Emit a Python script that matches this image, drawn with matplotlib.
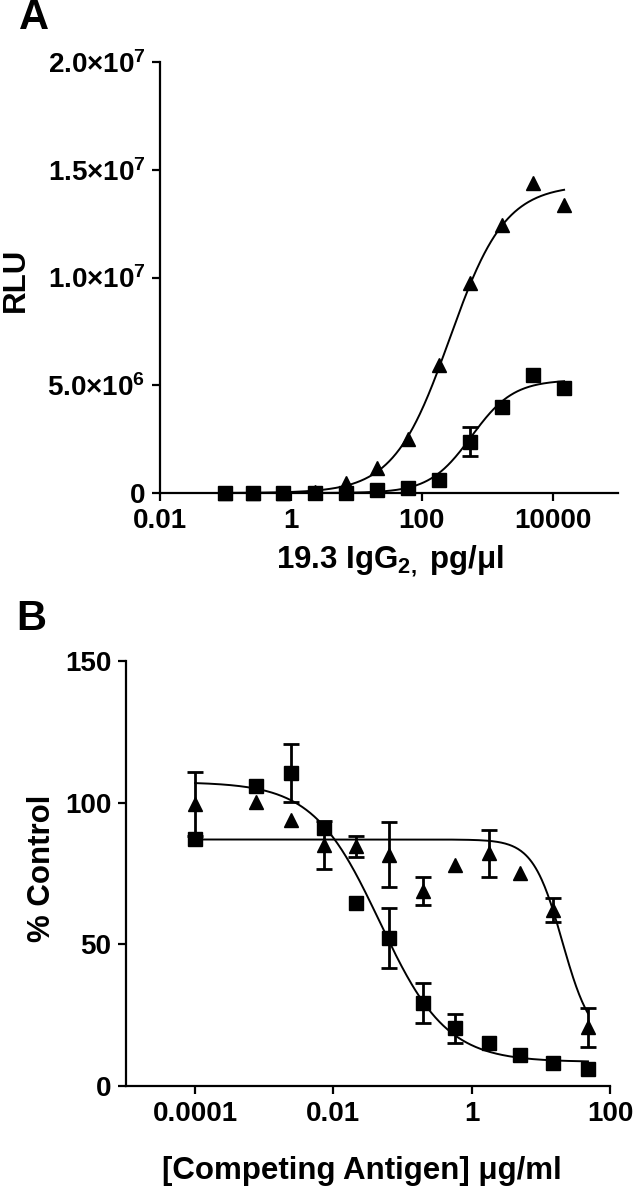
import numpy as np
import matplotlib
matplotlib.use('Agg')
import matplotlib.pyplot as plt
from matplotlib.ticker import FixedLocator, FixedFormatter, NullLocator

plt.rcParams['font.family'] = ['Liberation Sans', 'DejaVu Sans']
plt.rcParams['font.weight'] = 'bold'
plt.rcParams['mathtext.fontset'] = 'custom'
plt.rcParams['mathtext.rm'] = 'Liberation Sans:bold'
plt.rcParams['mathtext.bf'] = 'Liberation Sans:bold'
plt.rcParams['mathtext.it'] = 'Liberation Sans:bold'
plt.rcParams['mathtext.default'] = 'rm'

# ---------------- Panel A data ----------------
conc_a = [0.1, 0.26, 0.77, 2.3, 6.9, 21, 62, 185, 556, 1667, 5000, 15000]
rlu_square = [0, 0, 0, 0, 0, 0.14e6, 0.23e6, 0.6e6, 2.37e6, 4.0e6, 5.48e6, 4.87e6]
rlu_square_err = [0, 0, 0, 0, 0, 0, 0, 0, 0.67e6, 0, 0, 0]
rlu_triangle = [0, 0, 0, 0.05e6, 0.46e6, 1.16e6, 2.5e6, 5.94e6, 9.74e6, 12.44e6, 14.39e6, 13.36e6]
# fitted 4-parameter logistic curves (bottom, top, logEC50, hill)
fit_a_triangle = (0.0, 14.3e6, 2.425, 1.02)
fit_a_square = (0.0, 5.25e6, 2.76, 1.35)
ticks_a_x = [0.01, 1, 100, 10000]
ticklabels_a_x = ['0.01', '1', '100', '10000']
ticks_a_y = [0, 5e6, 1e7, 1.5e7, 2e7]
ticklabels_a_y = ['0', '5.0×10$^{6}$', '1.0×10$^{7}$', '1.5×10$^{7}$', '2.0×10$^{7}$']

# ---------------- Panel B data ----------------
conc_b = [1e-4, 7.7e-4, 2.4e-3, 7.2e-3, 0.0215, 0.063, 0.195, 0.57, 1.76, 5.0, 14.9, 48]
pct_square = [87.2, 105.9, 110.5, 91.2, 64.6, 52.2, 29.3, 20.4, 15.2, 11.0, 8.1, 6.0]
pct_square_err = [0, 0, 10.2, 0, 0, 10.7, 7.1, 5.1, 0, 0, 0, 0]
pct_triangle = [99.5, 100.2, 93.9, 85.0, 84.7, 81.6, 68.8, 78.0, 82.1, 75.2, 62.2, 20.7]
pct_triangle_err = [11.3, 0, 0, 8.5, 3.7, 11.5, 5.0, 0, 8.3, 0, 4.3, 7.0]
fit_b_square = (8.5, 107.3, -1.33, 0.9)
fit_b_triangle = (15.0, 87.0, 1.31, 2.05)
ticks_b_x = [1e-4, 1e-2, 1, 100]
ticklabels_b_x = ['0.0001', '0.01', '1', '100']
ticks_b_y = [0, 50, 100, 150]
ticklabels_b_y = ['0', '50', '100', '150']


def logistic_up(x, p):
    b, t, l, h = p
    return b + (t - b) / (1 + 10 ** ((l - np.log10(x)) * h))


def logistic_down(x, p):
    b, t, l, h = p
    return b + (t - b) / (1 + 10 ** ((np.log10(x) - l) * h))


W, H = 640, 1199
fig = plt.figure(figsize=(W / 100, H / 100), dpi=100)

def px_axes(x0, y0, x1, y1):
    return fig.add_axes([x0 / W, 1 - y1 / H, (x1 - x0) / W, (y1 - y0) / H])

axA = px_axes(160, 62, 618, 493)
axB = px_axes(126, 661, 610, 1086)

TICK_FS = 20
LABEL_FS = 22.5
MS = 10.5
LW_SPINE = 1.6


def style(ax):
    for s in ['top', 'right']:
        ax.spines[s].set_visible(False)
    for s in ['left', 'bottom']:
        ax.spines[s].set_linewidth(LW_SPINE)
    ax.tick_params(direction='out', length=5.5, width=LW_SPINE, pad=5,
                   labelsize=TICK_FS)
    ax.xaxis.set_minor_locator(NullLocator())
    ax.yaxis.set_minor_locator(NullLocator())


def draw_points(ax, x, y, err, marker, z):
    x = np.asarray(x); y = np.asarray(y); err = np.asarray(err)
    m = err > 0
    if m.any():
        ax.errorbar(x[m], y[m], yerr=err[m], fmt='none', ecolor='black',
                    elinewidth=2.0, capsize=6, capthick=2.0, zorder=z,
                    clip_on=False)
    ax.plot(x, y, linestyle='none', marker=marker, ms=MS, color='black',
            zorder=z + 0.5, clip_on=False)

# ---- Panel A ----
axA.set_xscale('log')
axA.set_xlim(0.01, 1e5)
axA.set_ylim(0, 2e7)
xa = np.logspace(np.log10(conc_a[0]), np.log10(conc_a[-1]), 400)
axA.plot(xa, logistic_up(xa, fit_a_triangle), color='black', lw=1.4, zorder=2)
axA.plot(xa, logistic_up(xa, fit_a_square), color='black', lw=1.4, zorder=2)
draw_points(axA, conc_a, rlu_triangle, [0] * len(conc_a), '^', 3)
draw_points(axA, conc_a, rlu_square, rlu_square_err, 's', 4)
style(axA)
axA.xaxis.set_major_locator(FixedLocator(ticks_a_x))
axA.xaxis.set_major_formatter(FixedFormatter(ticklabels_a_x))
axA.yaxis.set_major_locator(FixedLocator(ticks_a_y))
axA.yaxis.set_major_formatter(FixedFormatter(ticklabels_a_y))

# ---- Panel B ----
axB.set_xscale('log')
axB.set_xlim(1e-5, 100)
axB.set_ylim(0, 150)
xb = np.logspace(np.log10(conc_b[0]), np.log10(conc_b[-1]), 400)
axB.plot(xb, logistic_down(xb, fit_b_square), color='black', lw=1.4, zorder=2)
axB.plot(xb, logistic_down(xb, fit_b_triangle), color='black', lw=1.4, zorder=2)
draw_points(axB, conc_b, pct_triangle, pct_triangle_err, '^', 3)
draw_points(axB, conc_b, pct_square, pct_square_err, 's', 4)
style(axB)
axB.xaxis.set_major_locator(FixedLocator(ticks_b_x))
axB.xaxis.set_major_formatter(FixedFormatter(ticklabels_b_x))
axB.yaxis.set_major_locator(FixedLocator(ticks_b_y))
axB.yaxis.set_major_formatter(FixedFormatter(ticklabels_b_y))

# ---- Labels ----
def ftext(x, y, s, **kw):
    fig.text(x / W, 1 - y / H, s, ha='center', va='center', fontweight='bold', **kw)

ftext(16, 280, 'RLU', rotation=90, fontsize=LABEL_FS)
ftext(390, 561, '19.3 IgG$_{2,}$ pg/μl', fontsize=LABEL_FS)
ftext(42, 868, '% Control', rotation=90, fontsize=LABEL_FS)
ftext(362, 1171, '[Competing Antigen] μg/ml', fontsize=LABEL_FS)
ftext(34, 18, 'A', fontsize=30)
ftext(31, 619, 'B', fontsize=30)

fig.savefig('out.png', dpi=100)
